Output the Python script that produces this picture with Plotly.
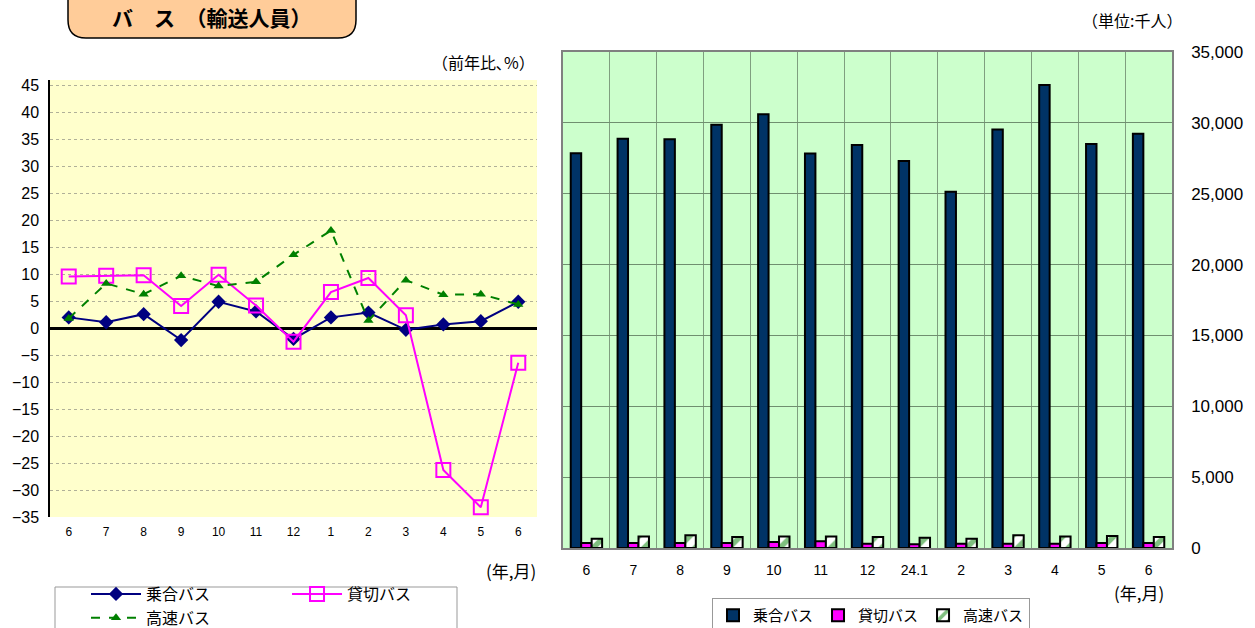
import plotly.graph_objects as go

W, H = 1255, 628

# left chart: year-on-year change (%)
left_months = ['6', '7', '8', '9', '10', '11', '12', '1', '2', '3', '4', '5', '6']
joai_pct = [2.0, 1.1, 2.6, -2.2, 4.9, 3.1, -2.0, 2.0, 2.9, -0.3, 0.7, 1.3, 4.9]
kashikiri_pct = [9.6, 9.7, 9.8, 4.1, 9.9, 4.2, -2.5, 6.7, 9.3, 2.4, -26.3, -33.2, -6.4]
kosoku_pct = [1.8, 8.3, 6.3, 9.7, 7.8, 8.6, 13.6, 18.1, 1.4, 8.9, 6.2, 6.3, 4.4]

# right chart: passengers (thousand people)
right_months = ['6', '7', '8', '9', '10', '11', '12', '24.1', '2', '3', '4', '5', '6']
joai_num = [27850, 28870, 28840, 29860, 30610, 27830, 28440, 27310, 25140, 29530, 32670, 28510, 29240]
kashikiri_num = [350, 350, 350, 350, 420, 470, 300, 260, 300, 300, 300, 350, 350]
kosoku_num = [650, 820, 900, 770, 820, 820, 770, 720, 650, 900, 820, 850, 770]

JP = "Noto Sans CJK JP"
NUM = "Liberation Sans, Arial, sans-serif"


def px(v):
    return v / W


def py(v):
    return 1 - v / H


xs = list(range(len(left_months)))

fig = go.Figure()

# line series (left)
fig.add_trace(go.Scatter(
    x=xs, y=joai_pct, name='乗合バス\u3000\u3000\u3000\u3000\u2002', mode='lines+markers',
    line=dict(color='#000080', width=2),
    marker=dict(symbol='diamond', size=11, color='#000080'),
    xaxis='x', yaxis='y', legend='legend', legendgroup='a'
))
fig.add_trace(go.Scatter(
    x=xs, y=kashikiri_pct, name='貸切バス', mode='lines+markers',
    line=dict(color='#FF00FF', width=2),
    marker=dict(symbol='square-open', size=14, color='#FF00FF', line=dict(width=2)),
    xaxis='x', yaxis='y', legend='legend', legendgroup='b'
))
fig.add_trace(go.Scatter(
    x=xs, y=kosoku_pct, name='高速バス', mode='lines+markers',
    line=dict(color='#008000', width=2, dash='dash'),
    marker=dict(symbol='triangle-up', size=9, color='#008000'),
    xaxis='x', yaxis='y', legend='legend', legendgroup='a'
))

# bar series (right)
fig.add_trace(go.Bar(
    x=xs, y=joai_num, name='乗合バス',
    marker=dict(color='#003366', line=dict(color='black', width=2)),
    xaxis='x2', yaxis='y2', legend='legend2'
))
fig.add_trace(go.Bar(
    x=xs, y=kashikiri_num, name='貸切バス',
    marker=dict(color='#FF00FF', line=dict(color='black', width=2)),
    xaxis='x2', yaxis='y2', legend='legend2'
))
fig.add_trace(go.Bar(
    x=xs, y=kosoku_num, name='高速バス',
    marker=dict(color='white', line=dict(color='black', width=2),
                pattern=dict(shape='/', fgcolor='#008000', bgcolor='white', size=12, solidity=0.45)),
    xaxis='x2', yaxis='y2', legend='legend2'
))

# rounded title box
x0, x1, y0, y1, r = 68, 356, -20, 38, 18
path = (
    f"M {px(x0 + r)},{py(y0)} L {px(x1 - r)},{py(y0)} "
    f"Q {px(x1)},{py(y0)} {px(x1)},{py(y0 + r)} L {px(x1)},{py(y1 - r)} "
    f"Q {px(x1)},{py(y1)} {px(x1 - r)},{py(y1)} L {px(x0 + r)},{py(y1)} "
    f"Q {px(x0)},{py(y1)} {px(x0)},{py(y1 - r)} L {px(x0)},{py(y0 + r)} "
    f"Q {px(x0)},{py(y0)} {px(x0 + r)},{py(y0)} Z"
)
fig.add_shape(type='path', path=path, xref='paper', yref='paper',
              fillcolor='#FFCC99', line=dict(color='black', width=1.5), layer='above')

# frame of the line-chart legend
fig.add_shape(type='rect', xref='paper', yref='paper',
              x0=px(55), x1=px(457), y0=py(640), y1=py(587),
              fillcolor='white', line=dict(color='#999999', width=1), layer='above')

annotations = [
    dict(text='<b>バ　ス　（輸送人員）</b>', x=px(212), y=py(17), font=dict(size=21, family=JP, color='black')),
    dict(text='（前年比､%）', x=px(537), y=py(62), xanchor='right', font=dict(size=16, family=JP)),
    dict(text='（単位:千人）', x=px(1184), y=py(20), xanchor='right', font=dict(size=16, family=JP)),
    dict(text='(年,月)', x=px(538), y=py(570), xanchor='right', font=dict(size=17, family=JP)),
    dict(text='(年,月)', x=px(1166), y=py(592), xanchor='right', font=dict(size=17, family=JP)),
]
for a in annotations:
    a.setdefault('xanchor', 'center')
    a.update(xref='paper', yref='paper', yanchor='middle', showarrow=False)
    a['font'].setdefault('color', 'black')

fig.update_layout(
    width=W, height=H,
    margin=dict(l=0, r=0, t=0, b=0, autoexpand=False),
    paper_bgcolor='white',
    plot_bgcolor='white',
    barmode='group', bargap=0.33, bargroupgap=0,
    annotations=annotations,
    xaxis=dict(
        domain=[px(50), px(537)], range=[-0.5, 12.5],
        tickmode='array', tickvals=xs, ticktext=left_months,
        tickfont=dict(size=12, family=NUM, color='black'),
        showgrid=False, zeroline=False, showline=False, ticks='',
        ticklabelstandoff=6, anchor='y',
    ),
    yaxis=dict(
        domain=[py(517), py(80)], range=[-35, 46],
        tickmode='linear', tick0=-35, dtick=5,
        tickfont=dict(size=16, family=NUM, color='black'),
        showgrid=True, gridcolor='#B0B098', gridwidth=1, griddash='dot',
        zeroline=True, zerolinecolor='black', zerolinewidth=3,
        showline=True, linecolor='black', linewidth=1.5,
        ticks='', ticklabelstandoff=6, anchor='x',
    ),
    xaxis2=dict(
        domain=[px(563), px(1172)], range=[-0.5, 12.5],
        tickmode='array', tickvals=xs, ticktext=right_months,
        tickfont=dict(size=14, family=NUM, color='black'),
        showgrid=False, zeroline=False,
        showline=True, linecolor='#808080', linewidth=1.5, mirror=True,
        ticks='', ticklabelstandoff=8,
        minor=dict(tickmode='linear', tick0=0.5, dtick=1, showgrid=True,
                   gridcolor='#7F9F7F', gridwidth=1, ticks=''),
        anchor='y2',
    ),
    yaxis2=dict(
        domain=[py(548), py(52)], range=[0, 35000],
        tickmode='linear', tick0=0, dtick=5000, tickformat=',',
        tickfont=dict(size=17, family=NUM, color='black'),
        showgrid=True, gridcolor='#6F8F6F', gridwidth=1,
        zeroline=False, showline=True, linecolor='#808080', linewidth=1.5, mirror=True,
        side='right', ticks='', ticklabelstandoff=14, anchor='x2',
    ),
    legend=dict(
        orientation='h', traceorder='grouped', itemwidth=50,
        x=px(86), y=py(577), xanchor='left', yanchor='top',
        bgcolor='rgba(0,0,0,0)', borderwidth=0,
        font=dict(size=16, family=JP, color='black'),
    ),
    legend2=dict(
        orientation='h', itemwidth=30,
        x=px(871), y=py(598), xanchor='center', yanchor='top',
        bgcolor='white', bordercolor='#999999', borderwidth=1,
        font=dict(size=15, family=JP, color='black'),
    ),
)

# background colours of the plot areas
fig.add_shape(type='rect', xref='x domain', yref='y domain', x0=0, x1=1, y0=0, y1=1,
              fillcolor='#FFFFCC', line=dict(width=0), layer='below')
fig.add_shape(type='rect', xref='x2 domain', yref='y2 domain', x0=0, x1=1, y0=0, y1=1,
              fillcolor='#CCFFCC', line=dict(width=0), layer='below')

# the page's default body margin would shift the figure by 8px
fig.write_html("out.html", config={'displayModeBar': False},
               post_script="document.body.style.margin='0';")
